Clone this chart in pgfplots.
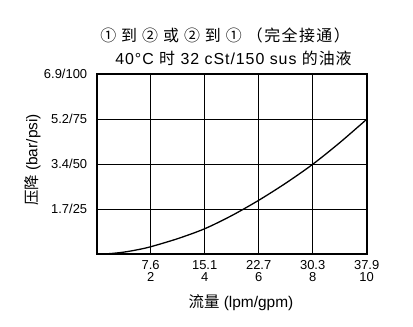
\documentclass[border=0pt]{standalone}
\usepackage{pgfplots}
\pgfplotsset{compat=1.18}
\usepackage{fontspec}
\setmainfont{Liberation Sans}
\newfontfamily\cjk{Noto Sans CJK SC}
\newfontfamily\cjkA[LetterSpace=9]{Noto Sans CJK SC}
\newfontfamily\latB[LetterSpace=6]{Liberation Sans}
\newfontfamily\cjkB[LetterSpace=6]{Noto Sans CJK SC}
\begin{document}
\begin{tikzpicture}
\useasboundingbox (-96.7bp,-72.7bp) rectangle (316.3bp,254.3bp);
\begin{axis}[
  at={(0,0)}, anchor=south west,
  scale only axis, width=270bp, height=180bp,
  xmin=0, xmax=10, ymin=0, ymax=100,
  xtick={2,4,6,8,10}, ytick={25,50,75,100},
  xticklabels={7.6\\2, 15.1\\4, 22.7\\6, 30.3\\8, 37.9\\10},
  yticklabels={1.7/25, 3.4/50, 5.2/75, 6.9/100},
  x tick label style={align=center, font=\fontsize{13}{11.7}\selectfont, yshift=-3bp},
  y tick label style={font=\fontsize{13}{13}\selectfont, xshift=-6bp},
  /pgf/number format/assume math mode=true,
  grid=major, major grid style={black, line width=1.4pt},
  axis line style={black, line width=1.7pt},
  tick style={draw=none},
  clip=false,
]
\addplot[black, line width=1.3pt, smooth] coordinates {
(0,0) (0.5,0.4) (1,1.2) (1.5,2.5) (2,4.2) (3,8.7) (4,14.2) (5,21.5) (6,30) (7,39.5) (8,50) (9,62) (10,75)
};
\end{axis}
\node[anchor=base, font=\fontsize{16}{16}\selectfont] at (128.3bp,212.3bp) {\cjkA ① 到 ② 或 ② 到 ① （完全接通）};
\node[anchor=base, font=\fontsize{16}{16}\selectfont] at (136.8bp,190bp) {\latB 40°C {\cjkB 时} 32 cSt/150 sus {\cjkB 的油液}};
\node[font=\fontsize{15.5}{15.5}\selectfont, rotate=90] at (-64.2bp,94.3bp) {{\cjk 压降} (bar/psi)};
\node[font=\fontsize{15.5}{15.5}\selectfont] at (144.3bp,-48.2bp) {{\cjk 流量} (lpm/gpm)};
\end{tikzpicture}
\end{document}
